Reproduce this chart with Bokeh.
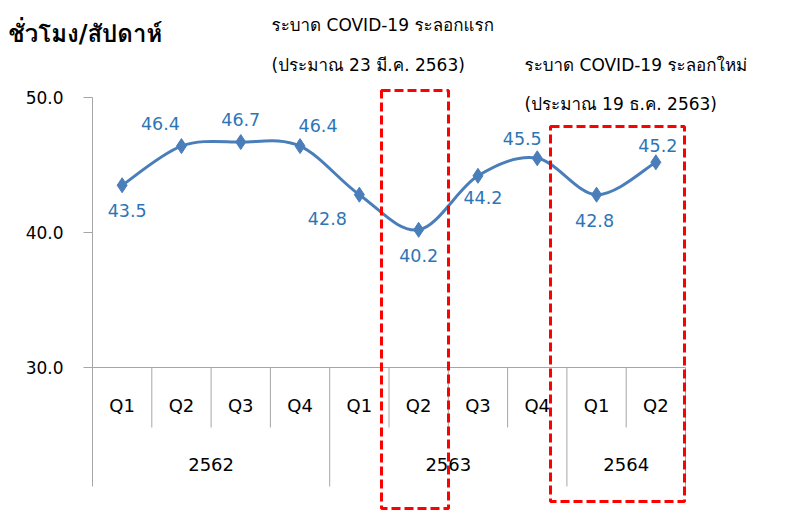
from bokeh.plotting import figure
from bokeh.models import Range1d, FixedTicker, PrintfTickFormatter, Label, BoxAnnotation, ColumnDataSource
from bokeh.core.properties import value
from bokeh.embed import file_html
from bokeh.resources import INLINE

# ---- data ----
years = ["2562", "2563", "2564"]
quarters = ["Q1", "Q2", "Q3", "Q4", "Q1", "Q2", "Q3", "Q4", "Q1", "Q2"]
hours = [43.5, 46.4, 46.7, 46.4, 42.8, 40.2, 44.2, 45.5, 42.8, 45.2]
y_ticks = [30, 40, 50]
title_text = "ชั่วโมง/สัปดาห์"
wave1 = ["ระบาด COVID-19 ระลอกแรก", "(ประมาณ 23 มี.ค. 2563)"]
wave2 = ["ระบาด COVID-19 ระลอกใหม่", "(ประมาณ 19 ธ.ค. 2563)"]

FONT = "DejaVu Sans, Tahoma, Loma, Noto Sans Thai, sans-serif"
BLUE_LINE = "#4A7EBB"
BLUE_TXT = "#2E75B6"
GRAY = "#A6A6A6"

n = len(hours)
xs = [i + 0.5 for i in range(n)]

PX_X = 59.3   # px per category
PX_Y = 13.5   # px per hour
X0 = 92       # page x of first category edge
Y50 = 97      # page y of 50.0
W, H = 785, 510

p = figure(width=W, height=H, output_backend="svg", toolbar_location=None,
           x_range=Range1d(-X0 / PX_X, -X0 / PX_X + W / PX_X),
           y_range=Range1d(50 + Y50 / PX_Y - H / PX_Y, 50 + Y50 / PX_Y),
           x_axis_location=None, min_border_left=0, min_border_right=0,
           min_border_top=0, min_border_bottom=0)
p.outline_line_color = None
p.grid.visible = False

ax = p.yaxis[0]
ax.fixed_location = 0
ax.ticker = FixedTicker(ticks=y_ticks)
ax.formatter = PrintfTickFormatter(format="%.1f")
ax.bounds = (30, 50)
ax.axis_line_color = GRAY
ax.major_tick_line_color = GRAY
ax.minor_tick_line_color = None
ax.major_tick_out = 9
ax.major_tick_in = 0
ax.major_label_standoff = 20
ax.major_label_text_font = FONT
ax.major_label_text_font_size = "17px"
ax.major_label_text_color = "#000000"

def page_y(py):
    return 50 + (Y50 - py) / PX_Y

def page_x(px):
    return (px - X0) / PX_X

# category axis (drawn)
p.segment(x0=[0], y0=[30], x1=[n], y1=[30], line_color=GRAY, line_width=1)
q_sep = [1, 2, 3, 5, 6, 7, 9]
p.segment(x0=q_sep, y0=[30] * len(q_sep), x1=q_sep, y1=[page_y(427)] * len(q_sep),
          line_color=GRAY, line_width=1)
y_sep = [0, 4, 8, 10]
p.segment(x0=y_sep, y0=[30] * len(y_sep), x1=y_sep, y1=[page_y(486)] * len(y_sep),
          line_color=GRAY, line_width=1)
p.text(x=xs, y=[page_y(405)] * n, text=quarters, text_font=value(FONT), text_font_size="18px",
       text_align="center", text_baseline="middle", text_color="#000000")
year_x = [2, 6, 9]
p.text(x=year_x, y=[page_y(464)] * 3, text=years, text_font=value(FONT), text_font_size="18px",
       text_align="center", text_baseline="middle", text_color="#000000")

# smoothed line (Excel-like bezier from data points)
def ext(i):
    i = max(0, min(n - 1, i))
    return xs[i], hours[i]
bx0, by0, bx1, by1, c0x, c0y, c1x, c1y = [], [], [], [], [], [], [], []
for i in range(n - 1):
    pxm, pym = ext(i - 1)
    px0, py0 = ext(i)
    px1, py1 = ext(i + 1)
    px2, py2 = ext(i + 2)
    bx0.append(px0); by0.append(py0); bx1.append(px1); by1.append(py1)
    c0x.append(px0 + (px1 - pxm) / 6); c0y.append(py0 + (py1 - pym) / 6)
    c1x.append(px1 - (px2 - px0) / 6); c1y.append(py1 - (py2 - py0) / 6)
p.bezier(x0=bx0, y0=by0, x1=bx1, y1=by1, cx0=c0x, cy0=c0y, cx1=c1x, cy1=c1y,
         line_color=BLUE_LINE, line_width=3)
p.scatter(x=xs, y=hours, marker="diamond", size=15, fill_color=BLUE_LINE, line_color=BLUE_LINE)

# data labels
lab_dx = [5, -21, 0, 18, -32, 0, 5, -15, -2, 2]
lab_dy = [25, -23, -23, -21, 24, 26, 22, -20, 26, -17]
src = ColumnDataSource(dict(x=xs, y=hours, t=[f"{v:.1f}" for v in hours], dx=lab_dx, dy=lab_dy))
p.text(x="x", y="y", text="t", x_offset="dx", y_offset="dy", source=src,
       text_font=value(FONT), text_font_size="17.5px", text_align="center",
       text_baseline="middle", text_color=BLUE_TXT)

# dashed boxes
for l, r, t, b in [(381, 448, 90, 508), (550, 684, 126, 501)]:
    p.add_layout(BoxAnnotation(left=page_x(l), right=page_x(r), top=page_y(t), bottom=page_y(b),
                               fill_alpha=0, line_color="#FF0000", line_alpha=1,
                               line_width=3, line_dash="9 4"))

# header texts
p.add_layout(Label(x=page_x(8), y=page_y(33), text=title_text, text_font=FONT,
                   text_font_size="24px", text_font_style="bold", text_baseline="middle",
                   text_color="#000000"))
for k, t in enumerate(wave1):
    p.add_layout(Label(x=page_x(271), y=page_y(24 + 40 * k), text=t,
                       text_font=FONT, text_font_size="17px", text_baseline="middle",
                       text_color="#000000"))
for k, t in enumerate(wave2):
    p.add_layout(Label(x=page_x(524), y=page_y(64 + 39 * k), text=t,
                       text_font=FONT, text_font_size="17px", text_baseline="middle",
                       text_color="#000000"))

open("out.html", "w").write(file_html(p, INLINE))
